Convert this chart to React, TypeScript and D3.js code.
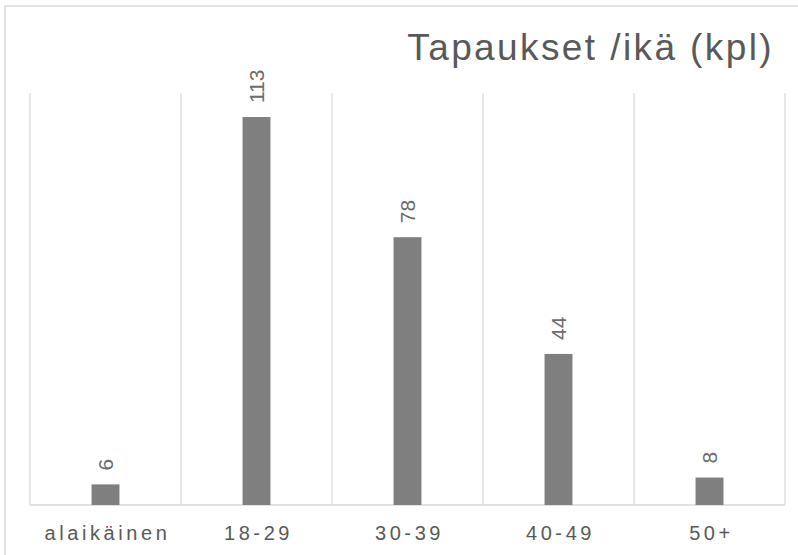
import React, { useEffect, useRef } from 'react';
import * as d3 from 'd3';

const categories = ['alaikäinen', '18-29', '30-39', '40-49', '50+'];
const values = [6, 113, 78, 44, 8];
const yMax = 120;
const title = 'Tapaukset /ikä (kpl)';

const App = () => {
    const svgRef = useRef<SVGSVGElement>(null);

    useEffect(() => {
        const svg = d3.select(svgRef.current);
        svg.selectAll('*').remove();

        const width = 798;
        const height = 555;
        const plot = { left: 30, right: 785, top: 93, bottom: 505 };
        const font = 'Liberation Sans, Arial, sans-serif';

        // chart frame (runs off the right and bottom edges)
        svg.append('rect')
            .attr('x', 5).attr('y', 6)
            .attr('width', width + 10).attr('height', height + 10)
            .attr('fill', '#fff')
            .attr('stroke', '#d9d9d9')
            .attr('stroke-width', 1.5);

        const x = d3.scaleBand<string>()
            .domain(categories)
            .range([plot.left, plot.right])
            .paddingInner(0.815)
            .paddingOuter(0.4075);

        const y = d3.scaleLinear().domain([0, yMax]).range([plot.bottom, plot.top]);

        const step = x.step();
        const bounds = categories.map(c => (x(c) as number) + x.bandwidth() / 2 - step / 2);
        bounds.push(bounds[bounds.length - 1] + step);

        // vertical gridlines between categories
        svg.append('g')
            .selectAll('line')
            .data(bounds)
            .join('line')
            .attr('x1', d => d).attr('x2', d => d)
            .attr('y1', y(yMax)).attr('y2', y(0))
            .attr('stroke', '#d9d9d9')
            .attr('stroke-width', 1.2);

        // baseline
        svg.append('line')
            .attr('x1', plot.left).attr('x2', plot.right)
            .attr('y1', y(0)).attr('y2', y(0))
            .attr('stroke', '#d9d9d9')
            .attr('stroke-width', 1.5);

        svg.append('g')
            .selectAll('rect')
            .data(values)
            .join('rect')
            .attr('x', (d, i) => x(categories[i]) as number)
            .attr('y', d => y(d))
            .attr('width', x.bandwidth())
            .attr('height', d => y(0) - y(d))
            .attr('fill', '#7f7f7f');

        // value labels, rotated
        svg.append('g')
            .selectAll('text')
            .data(values)
            .join('text')
            .attr('transform', (d, i) =>
                `translate(${(x(categories[i]) as number) + x.bandwidth() / 2},${y(d) - 14}) rotate(-90)`)
            .attr('text-anchor', 'start')
            .attr('dominant-baseline', 'central')
            .attr('font-family', font)
            .attr('font-size', 21)
            .attr('fill', '#6b6b6b')
            .text(d => d);

        // category labels
        svg.append('g')
            .selectAll('text')
            .data(categories)
            .join('text')
            .attr('x', d => (x(d) as number) + x.bandwidth() / 2 + 2)
            .attr('y', 540)
            .attr('text-anchor', 'middle')
            .attr('font-family', font)
            .attr('font-size', 20)
            .attr('letter-spacing', 3.6)
            .attr('fill', '#595959')
            .text(d => d);

        svg.append('text')
            .attr('x', 774)
            .attr('y', 60)
            .attr('text-anchor', 'end')
            .attr('font-family', font)
            .attr('font-size', 37)
            .attr('letter-spacing', 2.4)
            .attr('fill', '#595959')
            .text(title);
    }, []);

    return (
        <svg ref={svgRef} width="798" height="555"
            style={{ position: 'absolute', left: 0, top: 0, display: 'block', background: '#fff' }} />
    );
};

export default App;
